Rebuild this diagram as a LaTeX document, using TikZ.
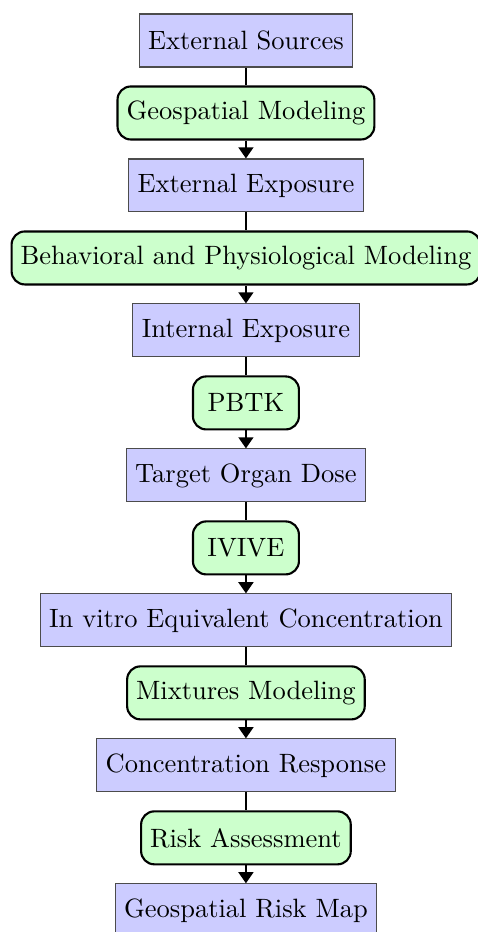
\documentclass[tikz,border=0pt]{standalone}
\usetikzlibrary{arrows.meta}
\begin{document}
\begin{tikzpicture}[x=1pt,y=1pt,
  bluebox/.style={rectangle,draw=black!70,fill=blue!20,minimum height=20pt,inner xsep=3.4pt},
  greenbox/.style={rectangle,rounded corners=5pt,draw=black,thick,fill=green!20,minimum height=20pt,minimum width=40pt,inner xsep=3.4pt},
  plainline/.style={thick},
  arrowline/.style={thick,-{Triangle[width=5.6pt,length=4.2pt]}}]
\useasboundingbox (-92.83,15.28) rectangle (87.55,-336.5);
\def\dy{27.36}
\node[bluebox]  (n1)  at (0,0)         {External Sources};
\node[greenbox] (n2)  at (0,-1*\dy)    {Geospatial Modeling};
\node[bluebox]  (n3)  at (0,-2*\dy)    {External Exposure};
\node[greenbox] (n4)  at (0,-3*\dy)    {Behavioral and Physiological Modeling};
\node[bluebox]  (n5)  at (0,-4*\dy)    {Internal Exposure};
\node[greenbox] (n6)  at (0,-5*\dy)    {PBTK};
\node[bluebox]  (n7)  at (0,-6*\dy)    {Target Organ Dose};
\node[greenbox] (n8)  at (0,-7*\dy)    {IVIVE};
\node[bluebox]  (n9)  at (0,-8*\dy)    {In vitro Equivalent Concentration};
\node[greenbox] (n10) at (0,-9*\dy)    {Mixtures Modeling};
\node[bluebox]  (n11) at (0,-10*\dy)   {Concentration Response};
\node[greenbox] (n12) at (0,-11*\dy)   {Risk Assessment};
\node[bluebox]  (n13) at (0,-12*\dy)   {Geospatial Risk Map};
\draw[plainline] (n1) -- (n2);
\draw[arrowline] (n2) -- (n3);
\draw[plainline] (n3) -- (n4);
\draw[arrowline] (n4) -- (n5);
\draw[plainline] (n5) -- (n6);
\draw[arrowline] (n6) -- (n7);
\draw[plainline] (n7) -- (n8);
\draw[arrowline] (n8) -- (n9);
\draw[plainline] (n9) -- (n10);
\draw[arrowline] (n10) -- (n11);
\draw[plainline] (n11) -- (n12);
\draw[arrowline] (n12) -- (n13);
\end{tikzpicture}
\end{document}
